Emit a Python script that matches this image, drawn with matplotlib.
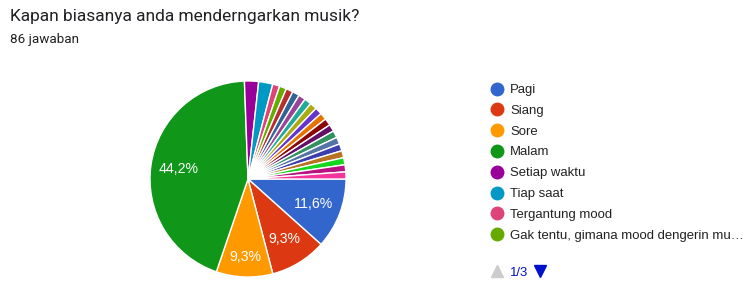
import numpy as np
import matplotlib.pyplot as plt
from matplotlib.lines import Line2D

# Data (86 jawaban)
labels = ['Pagi', 'Siang', 'Sore', 'Malam', 'Setiap waktu', 'Tiap saat',
          'Tergantung mood', 'Gak tentu, gimana mood dengerin mu\u2026',
          'L9', 'L10', 'L11', 'L12', 'L13', 'L14', 'L15', 'L16', 'L17',
          'L18', 'L19', 'L20', 'L21', 'L22', 'L23', 'L24']
counts = [10, 8, 8, 38, 2, 2] + [1] * 18
colors = ['#3366cc', '#dc3912', '#ff9900', '#109618', '#990099', '#0099c6',
          '#dd4477', '#66aa00', '#b82e2e', '#316395', '#994499', '#22aa99',
          '#aaaa11', '#6633cc', '#e67300', '#8b0707', '#651067', '#329262',
          '#5574a6', '#3b3eac', '#b77322', '#16d620', '#b91383', '#f4359e']
legend_shown = 8

W, H = 744, 282
fig = plt.figure(figsize=(W / 100, H / 100), dpi=100)
fig.patch.set_facecolor('white')

# Title
fig.text(10 / W, 1 - 17 / H, 'Kapan biasanya anda menderngarkan musik?',
         family='Roboto', fontsize=12.5, color='#202124', va='center')
fig.text(10 / W, 1 - 40 / H, '86 jawaban', family='Roboto', fontsize=9.7,
         color='#202124', va='center')

# Pie
cx, cy, r = 248, 179, 99
ax = fig.add_axes([(cx - r) / W, (H - cy - r) / H, 2 * r / W, 2 * r / H])


def fmt(p):
    return ('%.1f%%' % p).replace('.', ',') if p > 5 else ''


wedges, texts, autotexts = ax.pie(
    counts, colors=colors, startangle=0, counterclock=False,
    autopct=fmt, pctdistance=0.72, radius=1,
    wedgeprops=dict(edgecolor='white', linewidth=1),
    textprops=dict(color='white', family='Liberation Sans', fontsize=10.2))
# Sore label sits a bit further out in the original
w = wedges[2]
mid = np.deg2rad((w.theta1 + w.theta2) / 2)
autotexts[2].set_position((0.8 * np.cos(mid), 0.8 * np.sin(mid)))
ax.set_xlim(-1.01, 1.01)
ax.set_ylim(-1.01, 1.01)
ax.axis('off')

# Legend (page 1 of 3)
lx, ly0, dy = 497, 88.5, 20.8
for i in range(legend_shown):
    y = 1 - (ly0 + i * dy) / H
    fig.lines.append(Line2D([lx / W], [y], marker='o', markersize=9,
                            color=colors[i], transform=fig.transFigure))
    fig.text(510 / W, y - 1.5 / H, labels[i], family='Liberation Sans',
             fontsize=9.45, color='#222222', va='center')

# Pager
ny = 1 - 271 / H
fig.lines.append(Line2D([497 / W], [ny], marker='^', markersize=9,
                        color='#cccccc', transform=fig.transFigure))
fig.text(510 / W, ny - 1.5 / H, '1/3', family='Liberation Sans',
         fontsize=9.45, color='#0011cc', va='center')
fig.lines.append(Line2D([540 / W], [ny], marker='v', markersize=9,
                        color='#0011cc', transform=fig.transFigure))

fig.savefig('out.png', dpi=100)
